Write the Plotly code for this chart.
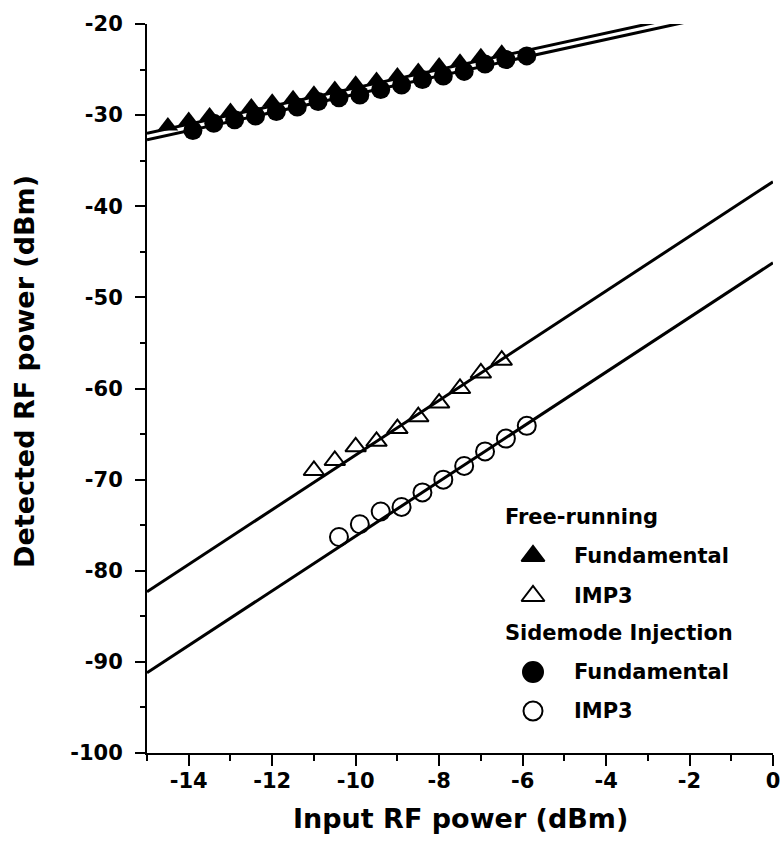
import plotly.graph_objects as go

# ---- data ----
x_fr_fund = [-14.5, -14.0, -13.5, -13.0, -12.5, -12.0, -11.5, -11.0, -10.5, -10.0,
             -9.5, -9.0, -8.5, -8.0, -7.5, -7.0, -6.5]
y_fr_fund = [-31.2, -30.6, -30.1, -29.6, -29.1, -28.6, -28.2, -27.7, -27.2, -26.6,
             -26.2, -25.7, -25.2, -24.6, -24.2, -23.6, -23.2]

x_si_fund = [-13.9, -13.4, -12.9, -12.4, -11.9, -11.4, -10.9, -10.4, -9.9, -9.4,
             -8.9, -8.4, -7.9, -7.4, -6.9, -6.4, -5.9]
y_si_fund = [-31.7, -30.9, -30.5, -30.1, -29.6, -29.1, -28.5, -28.1, -27.8, -27.2,
             -26.7, -26.1, -25.7, -25.2, -24.4, -23.9, -23.5]

x_fr_imp3 = [-11.0, -10.5, -10.0, -9.5, -9.0, -8.5, -8.0, -7.5, -7.0, -6.5]
y_fr_imp3 = [-69.0, -67.9, -66.4, -65.8, -64.4, -63.1, -61.6, -60.0, -58.3, -56.9]

x_si_imp3 = [-10.4, -9.9, -9.4, -8.9, -8.4, -7.9, -7.4, -6.9, -6.4, -5.9]
y_si_imp3 = [-76.3, -74.9, -73.5, -73.0, -71.4, -70.0, -68.5, -66.9, -65.5, -64.1]

# linear fits (slope, intercept)
fit_names = ["fr_fund", "si_fund", "fr_imp3", "si_imp3"]
fit_slope = [1.0, 1.0, 3.0, 3.0]
fit_intercept = [-17.0, -17.7, -37.3, -46.2]
fit_x = [-15.0, 0.0]

x_tickvals = [-14, -12, -10, -8, -6, -4, -2, 0]
x_ticktext = ["-14", "-12", "-10", "-8", "-6", "-4", "-2", "0"]
y_tickvals = [-100, -90, -80, -70, -60, -50, -40, -30, -20]
y_ticktext = ["-100", "-90", "-80", "-70", "-60", "-50", "-40", "-30", "-20"]

legend_groups = ["Free-running", "Sidemode Injection"]
legend_items = ["Fundamental", "IMP3", "Fundamental", "IMP3"]

x_title = "Input RF power (dBm)"
y_title = "Detected RF power (dBm)"

# ---- layout constants ----
FONT = "DejaVu Sans"
L, R, T, B = 147, 11, 24, 96
W, H = 784, 849
pw, ph = W - L - R, H - T - B


def px_x(p):
    return (p - L) / pw


def px_y(p):
    return (H - B - p) / ph


fig = go.Figure()

# fit lines
for s, b in zip(fit_slope, fit_intercept):
    fig.add_trace(go.Scatter(
        x=fit_x, y=[s * xx + b for xx in fit_x], mode="lines",
        line=dict(color="black", width=3), showlegend=False, hoverinfo="skip"))

# data markers
fig.add_trace(go.Scatter(x=x_fr_fund, y=y_fr_fund, mode="markers",
                         marker=dict(symbol="triangle-up", size=18, color="black"),
                         showlegend=False))
fig.add_trace(go.Scatter(x=x_si_fund, y=y_si_fund, mode="markers",
                         marker=dict(symbol="circle", size=19, color="black"),
                         showlegend=False))
fig.add_trace(go.Scatter(x=x_fr_imp3, y=y_fr_imp3, mode="markers",
                         marker=dict(symbol="triangle-up-open", size=18, color="black",
                                     line=dict(width=2)),
                         showlegend=False))
fig.add_trace(go.Scatter(x=x_si_imp3, y=y_si_imp3, mode="markers",
                         marker=dict(symbol="circle-open", size=18, color="black",
                                     line=dict(width=2)),
                         showlegend=False))

# legend symbols on a hidden overlay axis (0..1 across the plot area)
leg_rows_px = [556, 596, 672, 711]
leg_syms = ["triangle-up", "triangle-up-open", "circle", "circle-open"]
leg_sizes = [20, 20, 20, 19]
for py, sym, sz in zip(leg_rows_px, leg_syms, leg_sizes):
    fig.add_trace(go.Scatter(x=[px_x(533)], y=[px_y(py)], mode="markers",
                             xaxis="x3", yaxis="y3",
                             marker=dict(symbol=sym, size=sz, color="black",
                                         line=dict(width=2, color="black")),
                             showlegend=False, hoverinfo="skip"))

annotations = []
tfont = dict(family=FONT, size=21, color="black", weight="bold")
for name, py in zip(legend_groups, [517, 633]):
    annotations.append(dict(text=name, x=px_x(503), y=px_y(py), xref="paper", yref="paper",
                            xanchor="left", yanchor="middle", showarrow=False, font=tfont))
for name, py in zip(legend_items, leg_rows_px):
    annotations.append(dict(text=name, x=px_x(572), y=px_y(py), xref="paper", yref="paper",
                            xanchor="left", yanchor="middle", showarrow=False, font=tfont))
annotations.append(dict(text=x_title, x=px_x(460), y=px_y(818), xref="paper", yref="paper",
                        xanchor="center", yanchor="middle", showarrow=False,
                        font=dict(family=FONT, size=27, color="black", weight="bold")))
annotations.append(dict(text=y_title, x=px_x(24), y=px_y(372), xref="paper", yref="paper",
                        xanchor="center", yanchor="middle", showarrow=False, textangle=-90,
                        font=dict(family=FONT, size=27, color="black", weight="bold")))

tickfont = dict(family=FONT, size=21, color="black", weight="bold")
fig.update_layout(
    width=W, height=H,
    margin=dict(l=L, r=R, t=T, b=B, pad=0, autoexpand=False),
    paper_bgcolor="white", plot_bgcolor="white",
    showlegend=False,
    annotations=annotations,
    xaxis=dict(range=[-15, 0], tickmode="array", tickvals=x_tickvals, ticktext=x_ticktext,
               ticks="outside", ticklen=11, tickwidth=2, automargin=False,
               tickcolor="black", showline=True, linewidth=2, linecolor="black",
               showgrid=False, zeroline=False, tickfont=tickfont, ticklabelstandoff=-3,
               minor=dict(dtick=1, tick0=0, ticks="outside", ticklen=6, tickwidth=2,
                          tickcolor="black", showgrid=False)),
    yaxis=dict(range=[-100, -20], tickmode="array", tickvals=y_tickvals, ticktext=y_ticktext,
               ticks="outside", ticklen=10, tickwidth=2, automargin=False,
               tickcolor="black", showline=True, linewidth=2, linecolor="black",
               showgrid=False, zeroline=False, tickfont=tickfont, ticklabelstandoff=8,
               minor=dict(dtick=5, tick0=0, ticks="outside", ticklen=5, tickwidth=2,
                          tickcolor="black", showgrid=False)),
    xaxis2=dict(range=[-15, 0], overlaying="x", side="top", dtick=1, tick0=0,
                ticks="inside", ticklen=11, tickwidth=2, tickcolor="black", automargin=False,
                showline=True, linewidth=2, linecolor="black", showticklabels=False,
                showgrid=False, zeroline=False),
    yaxis2=dict(range=[-100, -20], overlaying="y", side="right", dtick=5, tick0=0,
                ticks="inside", ticklen=6, tickwidth=2, tickcolor="black", automargin=False,
                showline=True, linewidth=2, linecolor="black", showticklabels=False,
                showgrid=False, zeroline=False),
    xaxis3=dict(range=[0, 1], overlaying="x", visible=False),
    yaxis3=dict(range=[0, 1], overlaying="y", visible=False),
)

fig.write_html("out.html")
